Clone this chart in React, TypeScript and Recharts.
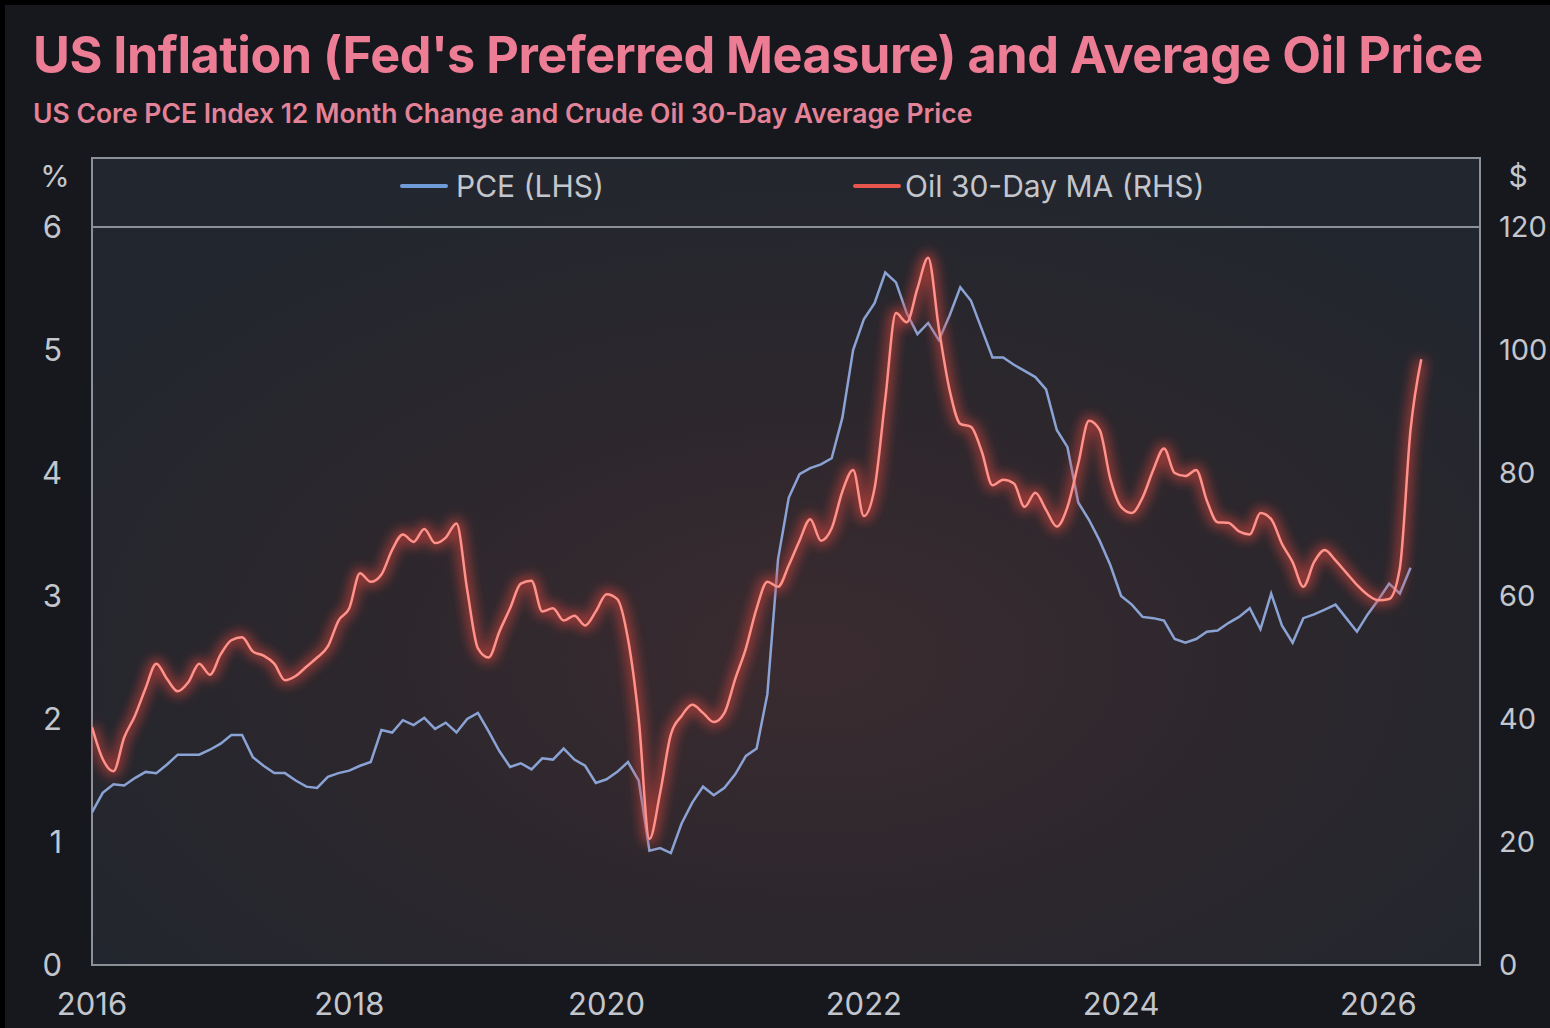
import { LineChart, Line, XAxis, YAxis, CartesianGrid, ReferenceLine, ReferenceArea, Legend } from 'recharts';

// monthly points, Jan 2016 onwards
const START_YEAR = 2016;

// US core PCE, 12 month change (%)
const pce = [
  1.24, 1.40, 1.47, 1.46, 1.52, 1.57, 1.56, 1.63, 1.71, 1.71, 1.71, 1.75,
  1.80, 1.87, 1.87, 1.69, 1.62, 1.56, 1.56, 1.50, 1.45, 1.44, 1.53, 1.56,
  1.58, 1.62, 1.65, 1.91, 1.89, 1.99, 1.95, 2.01, 1.92, 1.97, 1.89, 2.00,
  2.05, 1.90, 1.74, 1.61, 1.64, 1.59, 1.68, 1.67, 1.76, 1.67, 1.62, 1.48,
  1.51, 1.57, 1.65, 1.50, 0.93, 0.95, 0.91, 1.15, 1.32, 1.45, 1.38, 1.44,
  1.55, 1.70, 1.76, 2.20, 3.30, 3.80, 3.99, 4.04, 4.07, 4.12, 4.45, 5.00,
  5.25, 5.38, 5.63, 5.55, 5.30, 5.13, 5.22, 5.08, 5.28, 5.51, 5.40, 5.17,
  4.94, 4.94, 4.88, 4.83, 4.78, 4.68, 4.35, 4.21, 3.76, 3.62, 3.45, 3.25,
  3.00, 2.93, 2.83, 2.82, 2.80, 2.65, 2.62, 2.65, 2.71, 2.72, 2.78, 2.83,
  2.90, 2.73, 3.02, 2.76, 2.62, 2.82, 2.85, 2.89, 2.93, 2.82, 2.71, 2.85,
  2.97, 3.10, 3.02, 3.23,
];

// crude oil 30-day average ($)
const oil = [
  38.7, 33.5, 31.5, 37.0, 40.5, 45.0, 49.0, 46.5, 44.5, 46.0, 49.0, 47.2,
  50.5, 52.8, 53.3, 51.0, 50.3, 49.0, 46.3, 47.0, 48.5, 50.0, 51.8, 56.0,
  58.0, 63.7, 62.3, 63.5, 67.5, 70.0, 68.8, 70.9, 68.6, 69.5, 71.8, 61.0,
  51.5, 50.0, 54.2, 58.0, 62.0, 62.5, 57.5, 58.0, 56.0, 56.8, 55.2, 57.5,
  60.3, 59.5, 53.0, 40.0, 20.5, 28.0, 37.5, 40.5, 42.3, 41.0, 39.5, 41.0,
  46.5, 51.5, 58.0, 62.3, 61.5, 65.0, 69.0, 72.5, 69.0, 71.0, 77.0, 80.5,
  73.0, 77.5, 92.0, 106.0, 104.5, 110.0, 115.0, 103.5, 93.5, 88.0, 87.5, 83.5,
  78.0, 78.9, 78.3, 74.5, 76.8, 74.0, 71.3, 74.5, 81.5, 88.5, 87.0, 79.0,
  74.5, 73.5, 76.0, 80.5, 84.0, 80.0, 79.5, 80.5, 75.5, 72.0, 71.9, 70.5,
  70.0, 73.5, 72.5, 68.5, 65.5, 61.5, 65.5, 67.5, 65.8, 63.8, 61.8, 60.2,
  59.3, 59.5, 64.5, 87.0, 98.5,
];

const yearTicks = [2016, 2018, 2020, 2022, 2024, 2026];
const pctTicks = [0, 1, 2, 3, 4, 5, 6];
const usdTicks = [0, 20, 40, 60, 80, 100, 120];

const X_MAX = 2026.79;
const PCT_MAX = 6.561;
const USD_MAX = 131.22;

const data = oil.map((v, i) => ({
  t: START_YEAR + i / 12,
  pce: i < pce.length ? pce[i] : null,
  oil: v,
}));

const FONT = 'Inter, "Noto Sans", sans-serif';
const axisText = { fill: '#c3c6cc', fontSize: 31, fontFamily: FONT };
const frameColor = '#8c9099';

function LegendContent() {
  const item = { position: 'absolute' as const, top: 0, display: 'flex', alignItems: 'center' };
  const swatch = { display: 'inline-block', width: 48, height: 4, borderRadius: 2, marginRight: 8 };
  return (
    <div style={{ position: 'relative', height: 40, fontFamily: FONT, fontSize: 30, color: '#c3c6cc' }}>
      <div style={{ ...item, left: 308 }}>
        <span style={{ ...swatch, background: '#6f9bd8' }} />PCE (LHS)
      </div>
      <div style={{ ...item, left: 761 }}>
        <span style={{ ...swatch, background: '#e8554c', marginRight: 4 }} />Oil 30-Day MA (RHS)
      </div>
    </div>
  );
}

export default function App() {
  return (
    <div style={{ position: 'fixed', left: 0, top: 0, width: 1550, height: 1028, background: '#000', overflow: 'hidden' }}>
      <div style={{ position: 'absolute', left: 5, top: 5, right: 0, bottom: 0, background: '#16181e' }} />
      <div style={{ position: 'absolute', left: 33, top: 24, fontFamily: FONT, fontWeight: 700, fontSize: 50.4, color: '#ec7d95', whiteSpace: 'nowrap', letterSpacing: -0.5 }}>
        US Inflation (Fed's Preferred Measure) and Average Oil Price
      </div>
      <div style={{ position: 'absolute', left: 33, top: 97, fontFamily: FONT, fontWeight: 600, fontSize: 26.5, color: '#e48297', whiteSpace: 'nowrap' }}>
        US Core PCE Index 12 Month Change and Crude Oil 30-Day Average Price
      </div>
      <div style={{ position: 'absolute', left: 0, top: 0 }}>
        <LineChart width={1550} height={1028} data={data} margin={{ top: 158, right: 10, bottom: 23, left: 32 }}>
          <defs>
            <filter id="glow" x="-10%" y="-10%" width="120%" height="120%">
              <feGaussianBlur stdDeviation="6" />
            </filter>
            <radialGradient id="plotBg" cx="52%" cy="62%" r="65%">
              <stop offset="0%" stopColor="#3a2b30" />
              <stop offset="55%" stopColor="#2b272d" />
              <stop offset="100%" stopColor="#22262e" />
            </radialGradient>
          </defs>
          <CartesianGrid horizontal={false} vertical={false} fill="url(#plotBg)" yAxisId="pct" />
          <XAxis
            dataKey="t"
            type="number"
            domain={[START_YEAR, X_MAX]}
            ticks={yearTicks}
            axisLine={false}
            tickLine={false}
            tickSize={0}
            tickMargin={28}
            height={40}
            tick={axisText}
            allowDataOverflow
          />
          <YAxis
            yAxisId="pct"
            orientation="left"
            domain={[0, PCT_MAX]}
            ticks={pctTicks}
            width={60}
            axisLine={false}
            tickLine={false}
            tickSize={0}
            tickMargin={30}
            tick={axisText}
            allowDataOverflow
            label={{ value: '%', position: 'insideTop', offset: 8, dx: -7, fill: '#c3c6cc', fontSize: 30, fontFamily: FONT }}
          />
          <YAxis
            yAxisId="usd"
            orientation="right"
            domain={[0, USD_MAX]}
            ticks={usdTicks}
            width={60}
            axisLine={false}
            tickLine={false}
            tickSize={0}
            tickMargin={19}
            tick={{ ...axisText, fontSize: 29, textAnchor: 'start' }}
            allowDataOverflow
            label={{ value: '$', position: 'insideTop', offset: 8, dx: 8, fill: '#c3c6cc', fontSize: 30, fontFamily: FONT }}
          />
          <ReferenceArea yAxisId="pct" x1={START_YEAR} x2={X_MAX} y1={0} y2={PCT_MAX} fill="none" stroke={frameColor} strokeWidth={2} />
          <ReferenceLine yAxisId="pct" y={6} stroke={frameColor} strokeWidth={2} />
          <Legend
            verticalAlign="middle"
            align="center"
            content={LegendContent}
            wrapperStyle={{ position: 'absolute', top: 168, left: 92, width: 1388 }}
          />
          <Line
            yAxisId="pct"
            dataKey="pce"
            type="linear"
            stroke="#8ba3d4"
            strokeWidth={2.5}
            dot={false}
            connectNulls={false}
            isAnimationActive={false}
          />
          <Line
            yAxisId="usd"
            dataKey="oil"
            type="monotone"
            stroke="#e2453c"
            strokeWidth={11}
            strokeOpacity={0.6}
            filter="url(#glow)"
            dot={false}
            legendType="none"
            isAnimationActive={false}
          />
          <Line
            yAxisId="usd"
            dataKey="oil"
            type="monotone"
            stroke="#ff928a"
            strokeWidth={2.5}
            dot={false}
            isAnimationActive={false}
          />
        </LineChart>
      </div>
    </div>
  );
}
